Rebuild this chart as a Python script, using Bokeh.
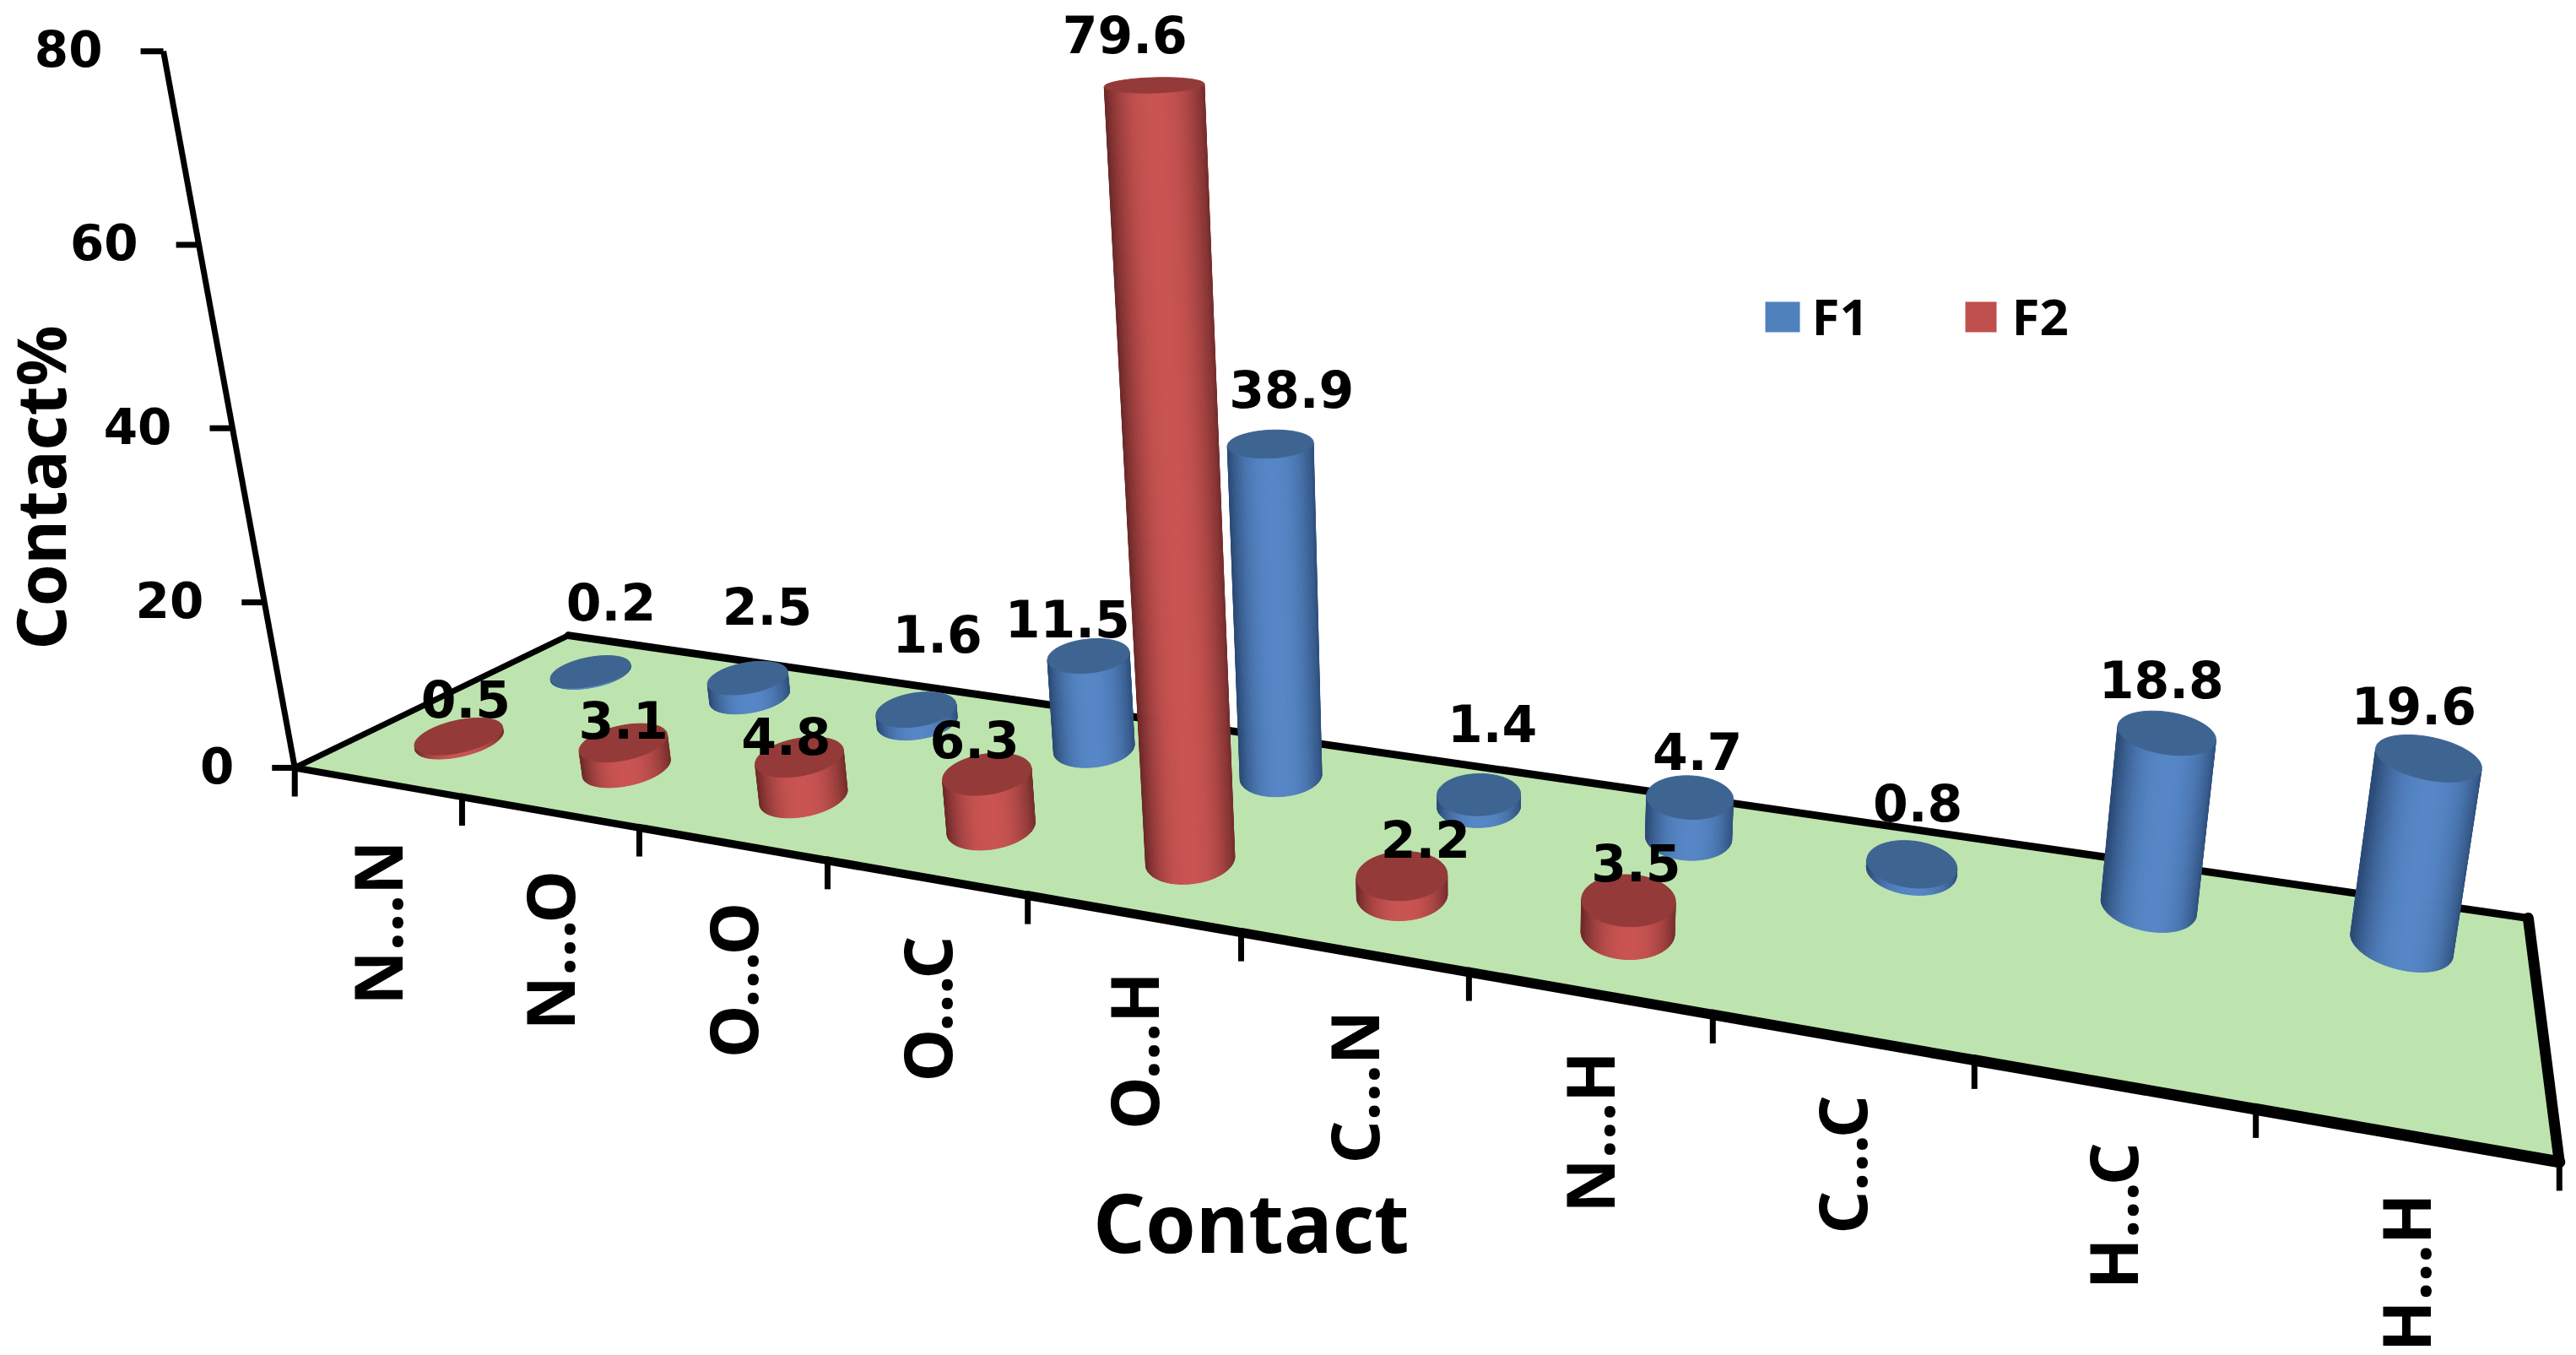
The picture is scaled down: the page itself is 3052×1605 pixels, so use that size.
import numpy as np
from bokeh.plotting import figure
from bokeh.models import Range1d
from bokeh.core.properties import value
from bokeh.embed import file_html
from bokeh.resources import INLINE

# ---- data ----
categories = ["N...N", "N...O", "O...O", "O...C", "O...H", "C...N", "N...H", "C...C", "H...C", "H...H"]
f1_values = [0.2, 2.5, 1.6, 11.5, 38.9, 1.4, 4.7, 0.8, 18.8, 19.6]
f2_values = [0.5, 3.1, 4.8, 6.3, 79.6, 2.2, 3.5, None, None, None]
y_ticks = [0, 20, 40, 60, 80]
series_names = ["F1", "F2"]
x_title = "Contact"
y_title = "Contact%"

# ---- layout: label offsets from each cylinder's top centre, in pixels ----
f1_label_dx = [24, 23, 25, -25, 25, 16, 9, 7, -6, -17]
f1_label_dy = [-83, -85, -90, -44, -65, -84, -55, -73, -63, -62]
f2_label_dx = [8, 0, -16, -15, -35, 28, 9, 0, 0, 0]
f2_label_dy = [-44, -27, -25, -41, -60, -44, -45, 0, 0, 0]

V_F2, V_F1 = 0.28, 0.78
RU, RV = 0.0195, 0.12
SHEAR = 0.002
Z_MAX = 80.0

# ---- the oblique camera of the 3-D chart, fitted to measured picture points ----
calib = [
    (0, 0, 0, 349, 907), (0, 1, 0, 679, 746), (1, 1, 0, 2996, 1080), (1, 0, 0, 3030, 1375),
    (0, 0, 20, 312, 713), (0, 0, 40, 276, 507), (0, 0, 60, 235, 287), (0, 0, 80, 195, 57),
    (.1, 0, 0, 549, 942), (.2, 0, 0, 757, 978), (.3, 0, 0, 983, 1018), (.4, 0, 0, 1220, 1059),
    (.5, 0, 0, 1473, 1103), (.6, 0, 0, 1743, 1150), (.7, 0, 0, 2030, 1200), (.8, 0, 0, 2337, 1254),
    (.9, 0, 0, 2674, 1313),
    (.45, V_F2, 79.6, 1365, 102), (.45, V_F1, 38.9, 1505, 528), (.95, V_F1, 19.6, 2877, 899),
    (.85, V_F1, 18.8, 2567, 870), (.35, V_F1, 11.5, 1289, 777), (.75, V_F1, .8, 2263, 1028),
    (.05, V_F1, .2, 697, 797), (.05, V_F2, .5, 537, 878), (.55, V_F2, 2.2, 1657, 1045),
    (.65, V_F1, 4.7, 2000, 946), (.35, V_F2, 6.3, 1166, 921),
    (.45, V_F2, 0, 1405, 1019), (.45, V_F1, 0, 1516, 918),
    (.95, V_F1, 0, 2847, 1115), (.85, V_F1, 0, 2545, 1069),
]
A, b = [], []
for u, v, z, sx, sy in calib:
    w = z / Z_MAX
    A.append([u, v, w, 1, 0, 0, 0, 0, -sx * u, -sx * v, -sx * w]); b.append(sx)
    A.append([0, 0, 0, 0, u, v, w, 1, -sy * u, -sy * v, -sy * w]); b.append(sy)
sol = np.linalg.lstsq(np.array(A, float), np.array(b, float), rcond=None)[0]
P = np.append(sol, 1.0).reshape(3, 4)


def project(u, v, z):
    u, v, z = np.asarray(u, float), np.asarray(v, float), np.asarray(z, float)
    X = P[0, 0] * u + P[0, 1] * v + P[0, 2] * z / Z_MAX + P[0, 3]
    Y = P[1, 0] * u + P[1, 1] * v + P[1, 2] * z / Z_MAX + P[1, 3]
    W = P[2, 0] * u + P[2, 1] * v + P[2, 2] * z / Z_MAX + P[2, 3]
    return X / W, Y / W


BG_GREEN = "#BDE4AE"
palette = {
    "F1": dict(bright=(86, 134, 198), dark=(44, 76, 120), top="#3E6492", flat="#4F81BD"),
    "F2": dict(bright=(201, 84, 82), dark=(112, 42, 42), top="#943A39", flat="#C0504D"),
}


def hexcol(c):
    return "#%02x%02x%02x" % tuple(int(round(x)) for x in c)


p = figure(width=3052, height=1605, output_backend="svg", toolbar_location=None,
           x_range=Range1d(0, 3052), y_range=Range1d(1605, 0),
           min_border=0, outline_line_color=None, background_fill_color="white",
           border_fill_color="white")
p.xaxis.visible = False
p.yaxis.visible = False
p.grid.visible = False

FONT = value("DejaVu Sans")

# floor
fx, fy = project([0, 0, 1, 1], [0, 1, 1, 0], [0, 0, 0, 0])
p.patch(fx.tolist(), fy.tolist(), fill_color=BG_GREEN, line_color=None)

# left, back and right edges of the floor
p.multi_line([fx[i:i + 2].tolist() for i in range(3)], [fy[i:i + 2].tolist() for i in range(3)],
             line_color="black", line_width=[7, 9, 13], line_cap="round")

# value axis
ax, ay = project([0, 0], [0, 0], [0, Z_MAX])
p.line(ax.tolist(), ay.tolist(), line_color="black", line_width=7)
tx, ty = project(np.zeros(len(y_ticks)), np.zeros(len(y_ticks)), y_ticks)
p.segment(tx - 27, ty, tx, ty, line_color="black", line_width=7)
p.text(tx - 72, ty - 3, text=[str(t) for t in y_ticks], text_font=FONT, text_font_style="bold",
       text_font_size="58px", text_align="right", text_baseline="middle", text_color="black")


# cylinders
def cylinder(u, v, z, name):
    pal = palette[name]
    th = np.linspace(0, 2 * np.pi, 97)
    us, vs = u + RU * np.cos(th) - SHEAR * np.sin(th), v + RV * np.sin(th)
    x0, y0 = project(us, vs, np.zeros_like(us))
    x1, y1 = project(us, vs, np.full_like(us, z))
    quads = []
    for k in range(96):
        qx = [x0[k], x0[k + 1], x1[k + 1], x1[k]]
        qy = [y0[k], y0[k + 1], y1[k + 1], y1[k]]
        area = sum(qx[i] * qy[(i + 1) % 4] - qx[(i + 1) % 4] * qy[i] for i in range(4))
        quads.append((area, qx, qy))
    # the facet nearest the viewer (sin = -1) tells which winding faces the camera
    front_sign = np.sign(quads[72][0])
    visible = [q for q in quads if np.sign(q[0]) == front_sign]
    lo, hi = x0.min(), x0.max()
    xs, ys, cols = [], [], []
    for q in visible:
        t = ((q[1][0] + q[1][1]) / 2 - lo) / max(hi - lo, 1e-6)
        s = np.clip(abs(t - 0.52) / 0.5, 0, 1) ** 2.4
        c = np.array(pal["bright"]) * (1 - s) + np.array(pal["dark"]) * s
        xs.append(q[1]); ys.append(q[2]); cols.append(hexcol(c))
    p.patches(xs, ys, fill_color=cols, line_color=cols, line_width=1)
    p.patch(x1.tolist(), y1.tolist(), fill_color=pal["top"], line_color=pal["top"], line_width=1)


for i, val in enumerate(f1_values):
    if val is not None:
        cylinder((i + .5) / 10, V_F1, val, "F1")
for i, val in enumerate(f2_values):
    if val is not None:
        cylinder((i + .5) / 10, V_F2, val, "F2")

# front edge, growing thicker towards the viewer, with its category ticks
eu = np.arange(0, 11) / 10
ex, ey = project(eu, np.zeros(11), np.zeros(11))
p.multi_line([ex[i:i + 2].tolist() for i in range(10)], [ey[i:i + 2].tolist() for i in range(10)],
             line_color="black", line_width=np.linspace(8, 14, 10).tolist(), line_cap="round")
p.segment(ex, ey, ex, ey + 34, line_color="black", line_width=7)

# category labels
cx, cy = project((np.arange(10) + .5) / 10, np.zeros(10), np.zeros(10))
p.text(cx, cy + 69, text=categories, angle=np.pi / 2, text_font=value("Noto Sans"),
       text_font_style="bold", text_font_size="79px", text_align="right", text_baseline="middle",
       text_color="black")

# data labels
for vals, vv, dxs, dys in ((f1_values, V_F1, f1_label_dx, f1_label_dy),
                           (f2_values, V_F2, f2_label_dx, f2_label_dy)):
    keep = [i for i, w in enumerate(vals) if w is not None]
    lx, ly = project([(i + .5) / 10 for i in keep], [vv] * len(keep), [vals[i] for i in keep])
    p.text(lx + np.array([dxs[i] for i in keep]), ly + np.array([dys[i] for i in keep]),
           text=[f"{vals[i]:.1f}" for i in keep],
           text_font=FONT, text_font_style="bold", text_font_size="60px",
           text_align="center", text_baseline="middle", text_color="black")

# titles
p.text([1482], [1446], text=[x_title], text_font=value("Noto Sans"), text_font_style="bold",
       text_font_size="96px", text_align="center", text_baseline="middle", text_color="black")
p.text([46], [577], text=[y_title], angle=np.pi / 2, text_font=value("Noto Sans"),
       text_font_style="bold", text_font_size="80px", text_align="center", text_baseline="middle",
       text_color="black")

# legend
for name, sx0, sx1, tx0 in (("F1", 2091, 2132, 2146), ("F2", 2328, 2365, 2383)):
    p.quad(left=[sx0], right=[sx1], top=[357], bottom=[393], fill_color=palette[name]["flat"], line_color=None)
    p.text([tx0], [373], text=[name], text_font=value("Noto Sans"), text_font_style="bold",
           text_font_size="60px", text_align="left", text_baseline="middle", text_color="black")

open("out.html", "w").write(file_html(p, INLINE))
